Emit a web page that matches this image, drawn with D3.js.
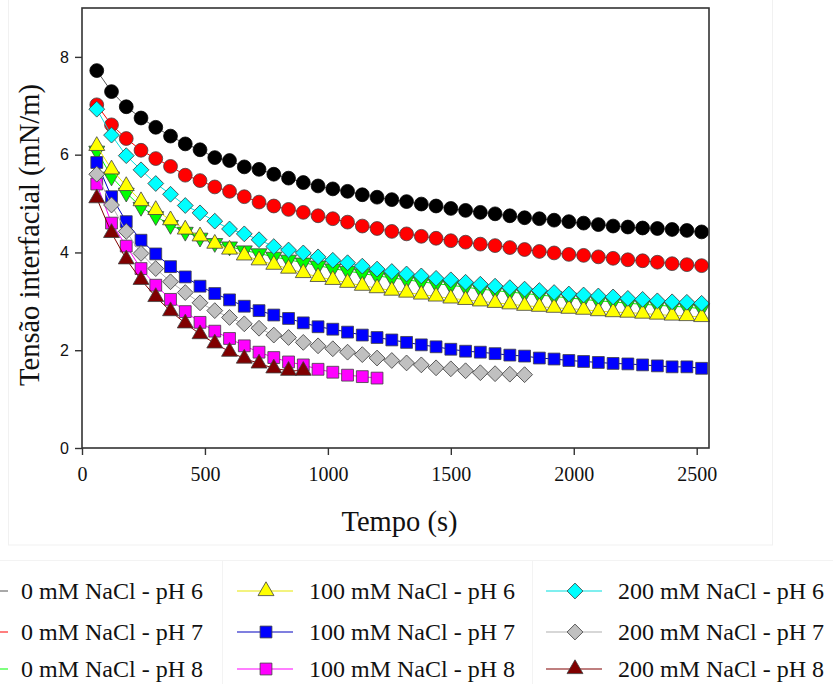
<!DOCTYPE html>
<html><head><meta charset="utf-8">
<script src="https://cdn.jsdelivr.net/npm/d3@7"></script>
<style>
html,body{margin:0;padding:0;background:#fff;}
svg{display:block;}
</style>
</head><body>
<svg id="chart" width="833" height="684"></svg>
<script>
// ---------- DATA ----------
const times = [60,120,180,240,300,360,420,480,540,600,660,720,780,840,900,960,1020,1080,1140,1200,1260,1320,1380,1440,1500,1560,1620,1680,1740,1800,1860,1920,1980,2040,2100,2160,2220,2280,2340,2400,2460,2520];

const seriesNames = ["0 mM NaCl - pH 6","0 mM NaCl - pH 7","0 mM NaCl - pH 8",
                     "100 mM NaCl - pH 6","100 mM NaCl - pH 7","100 mM NaCl - pH 8",
                     "200 mM NaCl - pH 6","200 mM NaCl - pH 7","200 mM NaCl - pH 8"];

const nacl0_pH6 = [7.72,7.29,6.98,6.75,6.56,6.38,6.22,6.10,5.94,5.88,5.75,5.70,5.60,5.52,5.43,5.36,5.30,5.25,5.18,5.13,5.08,5.04,4.99,4.95,4.90,4.86,4.82,4.79,4.75,4.71,4.69,4.66,4.63,4.60,4.57,4.54,4.52,4.50,4.49,4.47,4.45,4.42];
const nacl0_pH7 = [7.02,6.61,6.33,6.09,5.92,5.76,5.58,5.47,5.34,5.25,5.14,5.03,4.95,4.88,4.82,4.75,4.69,4.62,4.54,4.49,4.43,4.38,4.33,4.29,4.24,4.21,4.17,4.14,4.10,4.06,4.02,3.99,3.96,3.94,3.91,3.88,3.85,3.83,3.80,3.77,3.75,3.73];
const nacl0_pH8 = [6.08,5.55,5.22,4.93,4.74,4.56,4.42,4.30,4.19,4.12,4.04,3.98,3.91,3.85,3.79,3.73,3.67,3.62,3.57,3.52,3.48,3.44,3.40,3.36,3.33,3.29,3.25,3.22,3.19,3.16,3.13,3.10,3.07,3.04,3.01,2.99,2.96,2.94,2.92,2.90,2.88,2.85];
const nacl100_pH6 = [6.18,5.70,5.36,5.05,4.87,4.66,4.47,4.33,4.18,4.06,3.94,3.84,3.75,3.67,3.58,3.50,3.44,3.38,3.32,3.27,3.22,3.18,3.14,3.10,3.06,3.03,3.00,2.97,2.94,2.91,2.89,2.87,2.85,2.83,2.80,2.78,2.77,2.75,2.73,2.71,2.70,2.68];
const nacl100_pH7 = [5.84,5.14,4.63,4.25,3.97,3.71,3.50,3.31,3.16,3.03,2.90,2.81,2.72,2.65,2.56,2.48,2.43,2.37,2.31,2.26,2.21,2.16,2.11,2.07,2.02,1.98,1.96,1.93,1.90,1.88,1.84,1.82,1.79,1.77,1.75,1.73,1.72,1.70,1.68,1.66,1.66,1.63];
const nacl100_pH8 = [5.40,4.60,4.13,3.67,3.33,3.04,2.79,2.57,2.39,2.24,2.09,1.96,1.85,1.76,1.70,1.61,1.55,1.49,1.46,1.43];
const nacl200_pH6 = [6.93,6.40,5.98,5.69,5.41,5.19,4.96,4.81,4.64,4.48,4.38,4.26,4.12,4.05,3.99,3.91,3.84,3.79,3.72,3.66,3.61,3.56,3.52,3.47,3.44,3.39,3.35,3.31,3.28,3.25,3.22,3.18,3.15,3.13,3.11,3.09,3.06,3.04,3.01,2.99,2.98,2.96];
const nacl200_pH7 = [5.60,4.97,4.43,3.98,3.67,3.40,3.18,2.97,2.81,2.67,2.54,2.45,2.31,2.26,2.16,2.09,2.03,1.96,1.91,1.84,1.79,1.74,1.70,1.64,1.62,1.58,1.54,1.52,1.51,1.50];
const nacl200_pH8 = [5.11,4.40,3.86,3.44,3.09,2.80,2.55,2.33,2.14,1.97,1.83,1.73,1.63,1.58,1.58];

const xTicks = [0,500,1000,1500,2000,2500];
const yTicks = [0,2,4,6,8];
const xTitle = "Tempo (s)";
const yTitle = "Tensão interfacial (mN/m)";

// ---------- STYLE ----------
const allValues = [nacl0_pH6,nacl0_pH7,nacl0_pH8,nacl100_pH6,nacl100_pH7,nacl100_pH8,nacl200_pH6,nacl200_pH7,nacl200_pH8];
const fills  = ["#000000","#ff0000","#00ff00","#ffff00","#0000ff","#ff00ff","#00ffff","#c0c0c0","#800000"];
const lines  = ["#555555","#ff0000","#00ff00","#e8e800","#0000c0","#ff00ff","#00e0e0","#b0b0b0","#800000"];
const shapes = ["circle","circle","triDown","triUp","square","square","diamond","diamond","triUp"];

const svg = d3.select("#chart");
const m = {left:82, right:709, top:8, bottom:448};

// faint panel outlines
svg.append("rect").attr("x",8.5).attr("y",-1).attr("width",764).attr("height",546)
  .attr("fill","none").attr("stroke","#f1f1f1");
svg.append("line").attr("x1",0).attr("x2",833).attr("y1",560.5).attr("y2",560.5).attr("stroke","#f3f3f3");
[222.5,532.5].forEach(x=>svg.append("line").attr("x1",x).attr("x2",x).attr("y1",560).attr("y2",684).attr("stroke","#f3f3f3"));

const x = d3.scaleLinear().domain([0,2550]).range([m.left,m.right]);
const y = d3.scaleLinear().domain([0,9]).range([m.bottom,m.top]);

function symPath(shape){
  if(shape==="circle") return d3.symbol(d3.symbolCircle,150)();
  if(shape==="square") return d3.symbol(d3.symbolSquare,140)();
  if(shape==="diamond") return d3.symbol(d3.symbolSquare,125)();
  return d3.symbol(d3.symbolTriangle,110)();
}
function symTransform(shape,px,py){
  if(shape==="diamond") return `translate(${px},${py}) rotate(45)`;
  if(shape==="triDown") return `translate(${px},${py}) rotate(180)`;
  return `translate(${px},${py})`;
}

const plot = svg.append("g");
const lineGen = d3.line().x(d=>x(d[0])).y(d=>y(d[1]));
allValues.forEach((vals,i)=>{
  const pts = vals.map((v,j)=>[times[j],v]);
  const g = plot.append("g");
  g.append("path").attr("d",lineGen(pts)).attr("fill","none")
    .attr("stroke",lines[i]).attr("stroke-width",1);
  g.selectAll("path.pt").data(pts).enter().append("path").attr("class","pt")
    .attr("d",symPath(shapes[i]))
    .attr("transform",d=>symTransform(shapes[i],x(d[0]),y(d[1])))
    .attr("fill",fills[i])
    .attr("stroke", i===0 ? "#000" : "#404040")
    .attr("stroke-width",0.8);
});

// frame
svg.append("rect").attr("x",m.left).attr("y",m.top)
  .attr("width",m.right-m.left).attr("height",m.bottom-m.top)
  .attr("fill","none").attr("stroke","#333").attr("stroke-width",1.6);

// axes
const xAxis = svg.append("g").attr("transform",`translate(0,${m.bottom})`)
  .call(d3.axisBottom(x).tickValues(xTicks).tickSize(7).tickPadding(12).tickFormat(d3.format("d")));
xAxis.select(".domain").remove();
xAxis.selectAll("line").attr("stroke","#333").attr("stroke-width",1.4);
xAxis.selectAll("text").attr("font-family","'Liberation Serif','Times New Roman',serif")
  .attr("font-size",20).attr("fill","#111");

const yAxis = svg.append("g").attr("transform",`translate(${m.left},0)`)
  .call(d3.axisLeft(y).tickValues(yTicks).tickSize(7).tickPadding(6).tickFormat(d3.format("d")));
yAxis.select(".domain").remove();
yAxis.selectAll("line").attr("stroke","#333").attr("stroke-width",1.4);
yAxis.selectAll("text").attr("font-family","'Liberation Sans',Arial,sans-serif")
  .attr("font-size",16).attr("fill","#111");

// titles
svg.append("text").attr("x",(m.left+m.right)/2 + 4).attr("y",531)
  .attr("text-anchor","middle").attr("font-family","'Liberation Serif','Times New Roman',serif")
  .attr("font-size",28.5).attr("fill","#111").text(xTitle);
svg.append("text").attr("transform",`translate(39,${(m.top+m.bottom)/2 + 7}) rotate(-90)`)
  .attr("text-anchor","middle").attr("font-family","'Liberation Serif','Times New Roman',serif")
  .attr("font-size",28.5).attr("fill","#111").text(yTitle);

// legend
const colX = [-48, 237, 546];     // line start per column
const rowY = [591, 632, 669];
const leg = svg.append("g");
seriesNames.forEach((name,i)=>{
  const c = Math.floor(i/3), r = i%3;
  const x0 = colX[c], yy = rowY[r];
  const g = leg.append("g");
  g.append("line").attr("x1",x0).attr("x2",x0+56).attr("y1",yy).attr("y2",yy)
    .attr("stroke",lines[i]).attr("stroke-width",1.2);
  g.append("path").attr("d",symPath(shapes[i]))
    .attr("transform",symTransform(shapes[i],x0+29,yy))
    .attr("fill",fills[i]).attr("stroke", i===0 ? "#000" : "#404040").attr("stroke-width",0.8);
  g.append("text").attr("x",x0+ (c===0?69:72)).attr("y",yy+8)
    .attr("font-family","'Liberation Serif','Times New Roman',serif")
    .attr("font-size",24).attr("fill","#111").text(name);
});
</script>
</body></html>
